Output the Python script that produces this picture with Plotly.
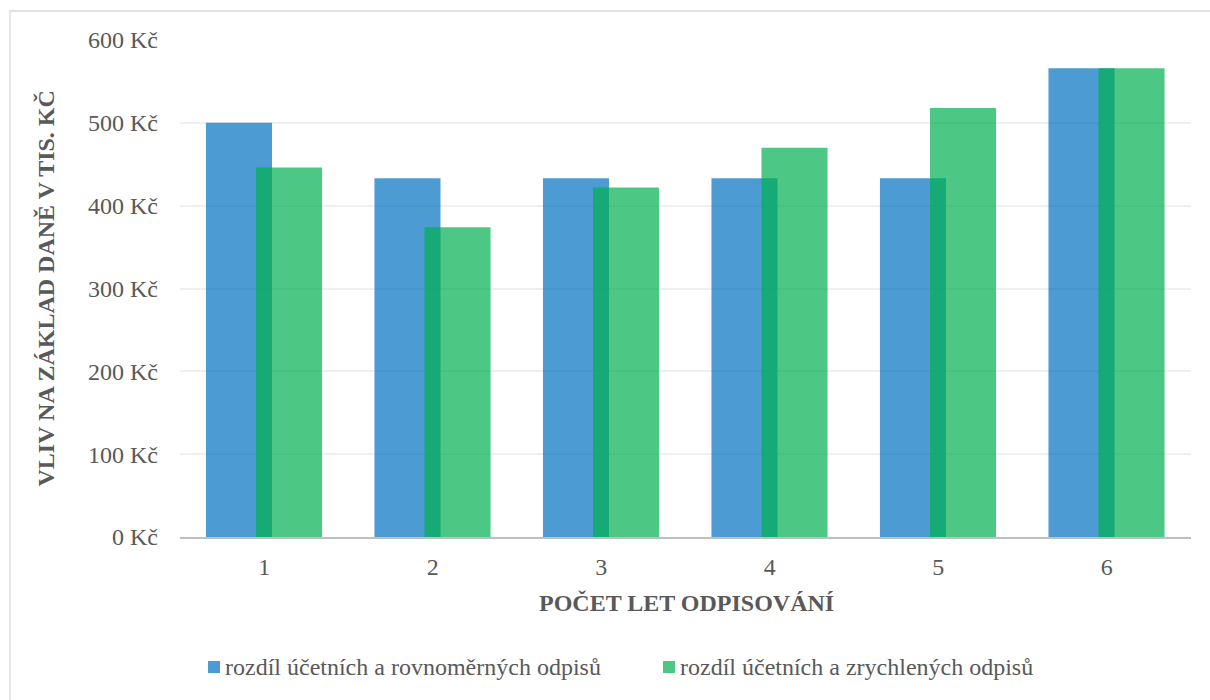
import plotly.graph_objects as go

# Data: impact on the tax base (thousand CZK) by depreciation period
years = [1, 2, 3, 4, 5, 6]
year_labels = ["1", "2", "3", "4", "5", "6"]
straight_line = [500, 433, 433, 433, 433, 566]
accelerated = [446, 374, 422, 470, 518, 566]
series_names = [
    "rozdíl účetních a rovnoměrných odpisů",
    "rozdíl účetních a zrychlených odpisů",
]
y_ticks = [0, 100, 200, 300, 400, 500, 600]
y_tick_labels = [f"{v} Kč" for v in y_ticks]

x_title = "POČET LET ODPISOVÁNÍ"
y_title = "VLIV NA ZÁKLAD DANĚ V TIS. KČ"

# Styling
W, H = 1210, 700
M_L, M_R, M_T, M_B = 180, 19, 40, 163
FONT = "Liberation Serif"
TXT = "#595959"
BLUE = "rgba(0,112,192,0.7)"
GREEN = "rgba(0,176,80,0.7)"
BAR_W = 0.392

plot_w = W - M_L - M_R
plot_h = H - M_T - M_B


def px_x(px):
    return (px - M_L) / plot_w


def px_y(py):
    return (H - M_B - py) / plot_h


fig = go.Figure()
fig.add_trace(go.Bar(
    x=years, y=straight_line, name=series_names[0],
    marker=dict(color=BLUE, line=dict(width=0)),
    width=BAR_W, offset=-0.346, showlegend=False,
))
fig.add_trace(go.Bar(
    x=years, y=accelerated, name=series_names[1],
    marker=dict(color=GREEN, line=dict(width=0)),
    width=BAR_W, offset=-0.049, showlegend=False,
))

shapes = [
    # outer chart frame
    dict(type="rect", xref="paper", yref="paper",
         x0=px_x(10), x1=px_x(1216), y0=px_y(11), y1=px_y(706),
         line=dict(color="#D9D9D9", width=1.3), fillcolor="rgba(0,0,0,0)",
         layer="below"),
]

annotations = [
    dict(text=f"<b>{y_title}</b>", xref="paper", yref="paper",
         x=px_x(45), y=0.5, xanchor="center", yanchor="middle",
         textangle=-90, showarrow=False,
         font=dict(family=FONT, size=24, color=TXT)),
    dict(text=f"<b>{x_title}</b>", xref="paper", yref="paper",
         x=px_x(686), y=px_y(603), xanchor="center", yanchor="middle",
         showarrow=False, font=dict(family=FONT, size=24, color=TXT)),
]

# legend entries: colored square + label
legend_items = [(208, BLUE, series_names[0]), (663, GREEN, series_names[1])]
leg_y = 667
for x0, col, name in legend_items:
    shapes.append(dict(type="rect", xref="paper", yref="paper",
                       x0=px_x(x0), x1=px_x(x0 + 12),
                       y0=px_y(leg_y - 6), y1=px_y(leg_y + 6),
                       line=dict(width=0), fillcolor=col))
    annotations.append(dict(text=name, xref="paper", yref="paper",
                            x=px_x(x0 + 15), y=px_y(leg_y),
                            xanchor="left", yanchor="middle", showarrow=False,
                            font=dict(family=FONT, size=24, color=TXT)))

fig.update_layout(
    width=W, height=H,
    margin=dict(l=M_L, r=M_R, t=M_T, b=M_B),
    paper_bgcolor="white", plot_bgcolor="white",
    barmode="overlay",
    showlegend=False,
    font=dict(family=FONT, size=24, color=TXT),
    shapes=shapes,
    annotations=annotations,
    xaxis=dict(
        range=[0.5, 6.5], tickvals=years, ticktext=year_labels,
        showgrid=False, zeroline=False,
        showline=True, linecolor="#BFBFBF", linewidth=2,
        ticks="", ticklabelstandoff=7,
        tickfont=dict(family=FONT, size=24, color=TXT),
    ),
    yaxis=dict(
        range=[0, 600], tickvals=y_ticks, ticktext=y_tick_labels,
        showgrid=True, gridcolor="#EFEFEF", gridwidth=1.5,
        zeroline=False, showline=False,
        ticks="", ticklabelstandoff=21,
        tickfont=dict(family=FONT, size=24, color=TXT),
    ),
)

fig.write_html("out.html")
